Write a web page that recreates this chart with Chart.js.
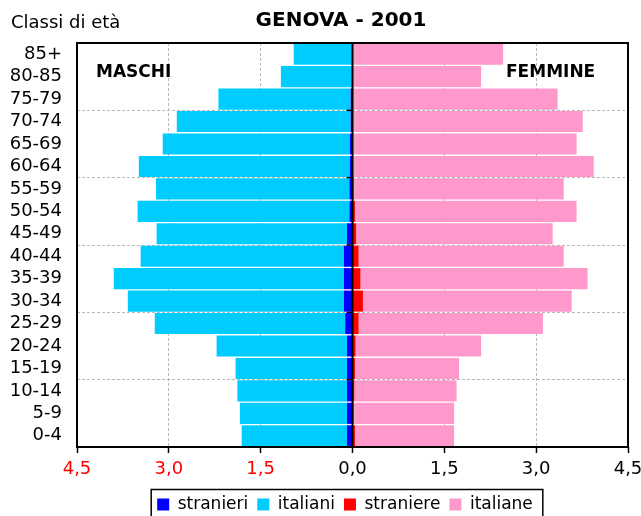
<!DOCTYPE html>
<html>
<head>
<meta charset="utf-8">
<script src="https://cdn.jsdelivr.net/npm/chart.js@4.4.1/dist/chart.umd.min.js"></script>
<style>
  html, body { margin: 0; padding: 0; background: #fff; }
  #box { width: 641px; height: 516px; }
</style>
</head>
<body>
<div id="box"><canvas id="chart" width="641" height="516"></canvas></div>
<script>
// Dati
const classi = ['85+', '80-85', '75-79', '70-74', '65-69', '60-64', '55-59', '50-54', '45-49',
  '40-44', '35-39', '30-34', '25-29', '20-24', '15-19', '10-14', '5-9', '0-4'];
const stranieri = [0.01, 0.01, 0.03, 0.03, 0.04, 0.04, 0.05, 0.05, 0.09, 0.14, 0.14, 0.14, 0.12, 0.09, 0.09, 0.09, 0.09, 0.09];
const italiani = [0.95, 1.16, 2.16, 2.84, 3.06, 3.45, 3.16, 3.46, 3.11, 3.32, 3.76, 3.53, 3.11, 2.13, 1.82, 1.79, 1.75, 1.72];
const straniere = [0.00, 0.00, 0.01, 0.01, 0.01, 0.01, 0.02, 0.04, 0.06, 0.10, 0.13, 0.17, 0.10, 0.05, 0.04, 0.03, 0.02, 0.04];
const italiane = [2.46, 2.10, 3.34, 3.75, 3.65, 3.93, 3.43, 3.62, 3.21, 3.35, 3.71, 3.41, 3.01, 2.05, 1.70, 1.67, 1.64, 1.62];
const xTicks = [-4.5, -3.0, -1.5, 0, 1.5, 3.0, 4.5];

Chart.defaults.font.family = 'DejaVu Sans';
Chart.defaults.color = '#000';

const GRID = '#b8b8b8';

// testi, cornice, asse zero, riquadro legenda
const extras = {
  id: 'extras',
  afterLayout(chart) {
    // legenda centrata sotto l'area del grafico come nell'originale
    chart.legend.left = 62;
  },
  afterDatasetsDraw(chart) {
    const ctx = chart.ctx;
    const a = chart.chartArea;
    const x = chart.scales.x, y = chart.scales.y;
    const x0 = x.getPixelForValue(0);
    ctx.save();
    ctx.strokeStyle = '#000';
    ctx.lineWidth = 2;
    ctx.beginPath();
    ctx.moveTo(x0, a.top);
    ctx.lineTo(x0, a.bottom);
    ctx.stroke();
    // piccoli tick sull'asse delle categorie
    ctx.lineWidth = 1.5;
    for (let i = 3; i < classi.length; i += 3) {
      const py = (y.getPixelForTick(i - 1) + y.getPixelForTick(i)) / 2;
      ctx.beginPath();
      ctx.moveTo(x0 - 6, py);
      ctx.lineTo(x0, py);
      ctx.stroke();
    }
    ctx.lineWidth = 2;
    ctx.strokeRect(a.left, a.top, a.right - a.left, a.bottom - a.top);
    ctx.restore();
  },
  afterDraw(chart) {
    const ctx = chart.ctx;
    ctx.save();
    ctx.fillStyle = '#000';
    ctx.textBaseline = 'alphabetic';
    ctx.font = '18px "DejaVu Sans"';
    ctx.textAlign = 'left';
    ctx.fillText('Classi di età', 11, 28);
    ctx.font = 'bold 20px "DejaVu Sans"';
    ctx.textAlign = 'center';
    ctx.fillText('GENOVA - 2001', 341, 26);
    ctx.font = 'bold 17px "DejaVu Sans"';
    ctx.textAlign = 'left';
    ctx.fillText('MASCHI', 96, 77);
    ctx.fillText('FEMMINE', 506, 77);
    // riquadro attorno alla legenda
    const hb = chart.legend.legendHitBoxes;
    if (hb && hb.length) {
      const l = Math.min(...hb.map(h => h.left));
      const r = Math.max(...hb.map(h => h.left + h.width));
      const t = Math.min(...hb.map(h => h.top));
      ctx.strokeStyle = '#000';
      ctx.lineWidth = 1.5;
      ctx.strokeRect(l - 6, t - 6.5, r - l + 16, 40);
    }
    ctx.restore();
  }
};

const ctx = document.getElementById('chart').getContext('2d');
new Chart(ctx, {
  type: 'bar',
  data: {
    labels: classi,
    datasets: [
      { label: 'stranieri', data: stranieri.map(v => -v), backgroundColor: '#0000ff' },
      { label: 'italiani', data: italiani.map(v => -v), backgroundColor: '#00ccff' },
      { label: 'straniere', data: straniere, backgroundColor: '#ff0000' },
      { label: 'italiane', data: italiane, backgroundColor: '#ff99cc' }
    ]
  },
  options: {
    indexAxis: 'y',
    responsive: false,
    animation: false,
    datasets: { bar: { barPercentage: 0.94, categoryPercentage: 1.0 } },
    layout: { padding: { top: 43, left: 0, right: 13, bottom: -7 } },
    scales: {
      x: {
        stacked: true,
        min: -4.5,
        max: 4.5,
        afterBuildTicks: s => { s.ticks = xTicks.map(v => ({ value: v })); },
        afterFit: s => { s.height = 40; s.paddingLeft = 0; s.paddingRight = 0; },
        ticks: {
          font: { size: 18 },
          padding: 6,
          maxRotation: 0,
          autoSkip: false,
          color: c => (c.tick && c.tick.value < 0 ? '#ff0000' : '#000'),
          callback: v => Math.abs(v).toFixed(1).replace('.', ',')
        },
        grid: {
          color: c => (c.tick && Math.abs(c.tick.value) > 0.01 && Math.abs(c.tick.value) < 4.4 ? GRID : 'rgba(0,0,0,0)'),
          tickColor: '#000',
          tickLength: 6,
          tickWidth: 1.5
        },
        border: { display: false, dash: [3, 2] }
      },
      y: {
        stacked: true,
        afterFit: s => { s.width = 77; },
        ticks: { font: { size: 18 }, padding: 15, autoSkip: false },
        grid: {
          offset: true,
          drawTicks: false,
          color: c => (c.index > 0 && c.index < classi.length && c.index % 3 === 0 ? GRID : 'rgba(0,0,0,0)')
        },
        border: { display: false, dash: [3, 2] }
      }
    },
    plugins: {
      legend: {
        position: 'bottom',
        labels: { font: { size: 17 }, boxWidth: 12, boxHeight: 12, padding: 9, color: '#000' }
      },
      title: { display: false },
      tooltip: { enabled: false }
    }
  },
  plugins: [extras]
});
</script>
</body>
</html>
